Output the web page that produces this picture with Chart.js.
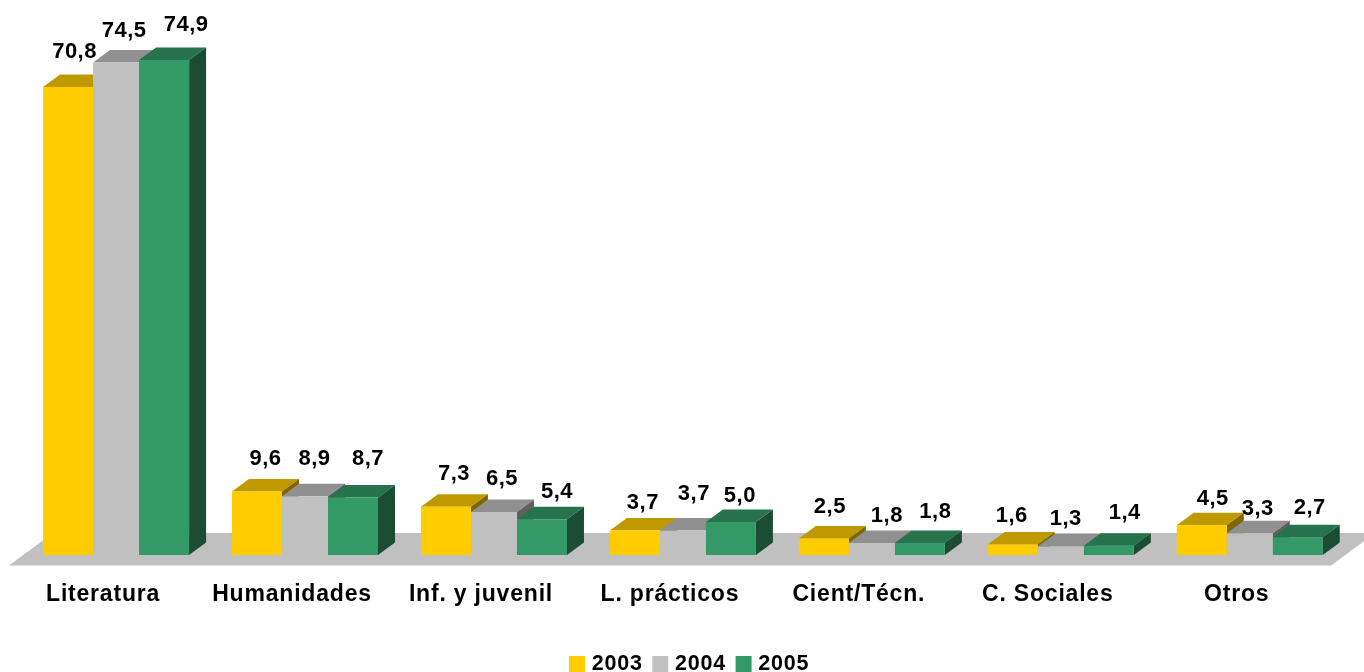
<!DOCTYPE html>
<html>
<head>
<meta charset="utf-8">
<title>Literatura</title>
<script src="https://cdn.jsdelivr.net/npm/chart.js@4"></script>
<style>
    html, body { margin: 0; padding: 0; background: #fff; overflow: hidden; }
    canvas { display: block; }
</style>
</head>
<body>
<canvas id="chart" width="1364" height="672"></canvas>
<script>
const categories = ['Literatura', 'Humanidades', 'Inf. y juvenil', 'L. prácticos', 'Cient/Técn.', 'C. Sociales', 'Otros'];
const years = ['2003', '2004', '2005'];
const values2003 = [70.8, 9.6, 7.3, 3.7, 2.5, 1.6, 4.5];
const values2004 = [74.5, 8.9, 6.5, 3.7, 1.8, 1.3, 3.3];
const values2005 = [74.9, 8.7, 5.4, 5.0, 1.8, 1.4, 2.7];

// Colours of each year: front, top face, side face
const frontColors = ['#FFCC00', '#C0C0C0', '#339966'];
const topColors = ['#BF9900', '#909090', '#26734D'];
const sideColors = ['#7F6600', '#606060', '#1A4D33'];

// Labels were placed by hand in the original: shift from the bar's top centre
const labelShiftX = [
    [6.5, 8.5, 8, 8, 6, -1, 11],
    [8, 9.5, 8, 11, 15, 5, 8],
    [22, 15, 15, 9, 15.5, 16, 12]
];
const labelShiftY = [
    [-35, -33, -33, -28, -32, -28.5, -26.5],
    [-32, -37.5, -33.5, -37, -27.5, -27.5, -24.5],
    [-35, -38.5, -27.5, -26.5, -31.5, -32.5, -29.5]
];

const depthX = 17;
const depthY = 12.5;
const fontFamily = '"Liberation Sans", Arial, sans-serif';

function polygon(ctx, points, color) {
    ctx.fillStyle = color;
    ctx.beginPath();
    points.forEach((p, i) => i ? ctx.lineTo(p[0], p[1]) : ctx.moveTo(p[0], p[1]));
    ctx.closePath();
    ctx.fill();
}

// Floor and the top/side faces go under the bars that the library draws
const box3d = {
    id: 'box3d',
    afterLayout(chart) {
        // the legend sits off-centre and hard against the bottom edge
        const legend = chart.legend;
        legend.left += 3.5;
        legend.right += 3.5;
        legend.top = 664 - legend.options.labels.padding - legend.legendHitBoxes[0].height / 2;
    },
    beforeDraw(chart) {
        chart.ctx.letterSpacing = '0.8px';
    },
    beforeDatasetsDraw(chart) {
        const ctx = chart.ctx;
        const area = chart.chartArea;
        const front = area.bottom + 10.6;
        const back = area.bottom - 22;
        polygon(ctx, [
            [area.left - 12.6, front],
            [area.right - 13.2, front],
            [area.right + 30.8, back],
            [area.left + 31.4, back]
        ], '#C0C0C0');

        categories.forEach((name, i) => {
            chart.data.datasets.forEach((ds, d) => {
                const bar = chart.getDatasetMeta(d).data[i];
                const half = bar.width / 2;
                const left = bar.x - half;
                const right = bar.x + half;
                polygon(ctx, [
                    [left, bar.y],
                    [right, bar.y],
                    [right + depthX, bar.y - depthY],
                    [left + depthX, bar.y - depthY]
                ], topColors[d]);
                polygon(ctx, [
                    [right, bar.y],
                    [right + depthX, bar.y - depthY],
                    [right + depthX, bar.base - depthY],
                    [right, bar.base]
                ], sideColors[d]);
            });
        });
    },
    afterDatasetsDraw(chart) {
        const ctx = chart.ctx;
        ctx.save();
        ctx.letterSpacing = '0.5px';
        ctx.font = 'bold 22px ' + fontFamily;
        ctx.fillStyle = '#000';
        ctx.textAlign = 'center';
        ctx.textBaseline = 'middle';
        chart.data.datasets.forEach((ds, d) => {
            chart.getDatasetMeta(d).data.forEach((bar, i) => {
                const text = ds.data[i].toFixed(1).replace('.', ',');
                ctx.fillText(text, bar.x + labelShiftX[d][i], bar.y + labelShiftY[d][i]);
            });
        });
        ctx.restore();
    }
};

const allValues = [values2003, values2004, values2005];
// Bars keep 48px slots, the yellow and green ones are a bit wider than the grey
const barShares = [50 / 48, 46 / 48, 50 / 48];

new Chart(document.getElementById('chart').getContext('2d'), {
    type: 'bar',
    data: {
        labels: categories,
        datasets: years.map((year, d) => ({
            label: year,
            data: allValues[d],
            backgroundColor: frontColors[d],
            borderWidth: 0,
            categoryPercentage: 144 / 188.9,
            barPercentage: barShares[d]
        }))
    },
    options: {
        responsive: false,
        animation: false,
        events: [],
        layout: {
            padding: { left: 21.6, right: 19.8, top: 26.2, bottom: 0 }
        },
        plugins: {
            tooltip: { enabled: false },
            legend: {
                position: 'bottom',
                labels: {
                    color: '#000',
                    font: { family: fontFamily, weight: 'bold', size: 21.5 },
                    boxWidth: 8,
                    boxHeight: 8,
                    padding: 13.5,
                    // thick stroke gives the 16px swatch with a tighter gap to the text
                    generateLabels: (chart) => chart.data.datasets.map((ds, d) => ({
                        text: ds.label,
                        fillStyle: ds.backgroundColor,
                        strokeStyle: ds.backgroundColor,
                        lineWidth: 8,
                        fontColor: '#000',
                        datasetIndex: d
                    }))
                }
            }
        },
        scales: {
            x: {
                grid: { display: false, drawTicks: false },
                border: { display: false },
                ticks: {
                    color: '#000',
                    font: { family: fontFamily, weight: 'bold', size: 23 },
                    padding: 26,
                    labelOffset: -13,
                    maxRotation: 0,
                    autoSkip: false
                },
                afterFit(scale) {
                    scale.height = 672 - 555 - scale.chart.legend.height;
                }
            },
            y: {
                display: false,
                min: 0,
                max: 80
            }
        }
    },
    plugins: [box3d]
});
</script>
</body>
</html>
